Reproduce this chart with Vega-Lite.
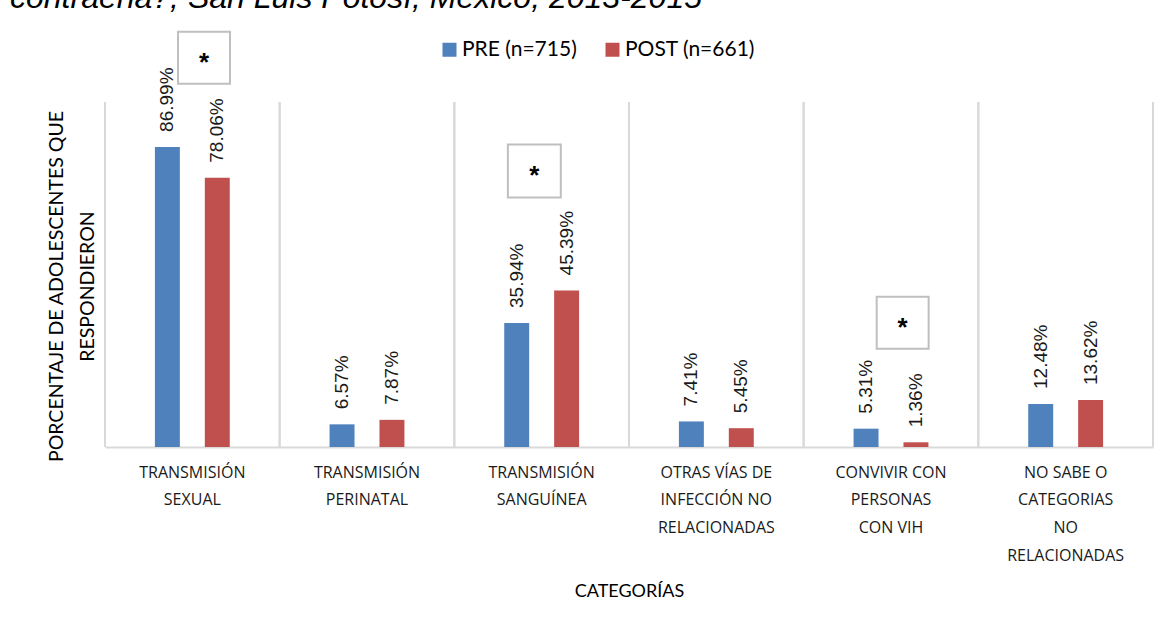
{
  "$schema": "https://vega.github.io/schema/vega-lite/v6.json",
  "width": 1048,
  "height": 345,
  "autosize": {"type": "none"},
  "padding": {"left": 105, "top": 102, "right": 17, "bottom": 179},
  "background": "white",
  "title": {
    "text": "contraerla?, San Luis Potosí, México, 2013-2015",
    "font": "Liberation Sans",
    "fontStyle": "italic",
    "fontWeight": "normal",
    "fontSize": 32,
    "color": "#000000",
    "anchor": "start",
    "frame": "group",
    "orient": "top",
    "baseline": "alphabetic",
    "dx": -95,
    "dy": 16
  },
  "datasets": {
    "bars": [
      {"cat": "TRANSMISIÓN SEXUAL", "grupo": "PRE (n=715)", "valor": 0.8699},
      {"cat": "TRANSMISIÓN SEXUAL", "grupo": "POST (n=661)", "valor": 0.7806},
      {"cat": "TRANSMISIÓN PERINATAL", "grupo": "PRE (n=715)", "valor": 0.0657},
      {"cat": "TRANSMISIÓN PERINATAL", "grupo": "POST (n=661)", "valor": 0.0787},
      {"cat": "TRANSMISIÓN SANGUÍNEA", "grupo": "PRE (n=715)", "valor": 0.3594},
      {"cat": "TRANSMISIÓN SANGUÍNEA", "grupo": "POST (n=661)", "valor": 0.4539},
      {"cat": "OTRAS VÍAS DE INFECCIÓN NO RELACIONADAS", "grupo": "PRE (n=715)", "valor": 0.0741},
      {"cat": "OTRAS VÍAS DE INFECCIÓN NO RELACIONADAS", "grupo": "POST (n=661)", "valor": 0.0545},
      {"cat": "CONVIVIR CON PERSONAS CON VIH", "grupo": "PRE (n=715)", "valor": 0.0531},
      {"cat": "CONVIVIR CON PERSONAS CON VIH", "grupo": "POST (n=661)", "valor": 0.0136},
      {"cat": "NO SABE O CATEGORIAS NO RELACIONADAS", "grupo": "PRE (n=715)", "valor": 0.1248},
      {"cat": "NO SABE O CATEGORIAS NO RELACIONADAS", "grupo": "POST (n=661)", "valor": 0.1362}
    ],
    "stars": [
      {"cat": "TRANSMISIÓN SEXUAL", "pos": 1.128, "marca": "*"},
      {"cat": "TRANSMISIÓN SANGUÍNEA", "pos": 0.80, "marca": "*"},
      {"cat": "CONVIVIR CON PERSONAS CON VIH", "pos": 0.36, "marca": "*"}
    ]
  },
  "encoding": {
    "x": {
      "field": "cat",
      "type": "nominal",
      "sort": null,
      "scale": {
        "domain": [
          "TRANSMISIÓN SEXUAL",
          "TRANSMISIÓN PERINATAL",
          "TRANSMISIÓN SANGUÍNEA",
          "OTRAS VÍAS DE INFECCIÓN NO RELACIONADAS",
          "CONVIVIR CON PERSONAS CON VIH",
          "NO SABE O CATEGORIAS NO RELACIONADAS"
        ],
        "paddingInner": 0,
        "paddingOuter": 0
      },
      "axis": {
        "title": "CATEGORÍAS",
        "titleFont": "Lato",
        "titleFontSize": 18,
        "titleFontWeight": "normal",
        "titleColor": "#000000",
        "titlePadding": 19,
        "labelAngle": 0,
        "labelFont": "Open Sans",
        "labelFontSize": 16,
        "labelColor": "#1a1a1a",
        "labelPadding": 17,
        "labelLineHeight": 27.7,
        "labelBaseline": "top",
        "labelLimit": 0,
        "ticks": false,
        "grid": false,
        "domainColor": "#D9D9D9",
        "domainWidth": 2,
        "labelExpr": "({'TRANSMISIÓN SEXUAL': ['TRANSMISIÓN', 'SEXUAL'], 'TRANSMISIÓN PERINATAL': ['TRANSMISIÓN', 'PERINATAL'], 'TRANSMISIÓN SANGUÍNEA': ['TRANSMISIÓN', 'SANGUÍNEA'], 'OTRAS VÍAS DE INFECCIÓN NO RELACIONADAS': ['OTRAS VÍAS DE', 'INFECCIÓN NO', 'RELACIONADAS'], 'CONVIVIR CON PERSONAS CON VIH': ['CONVIVIR CON', 'PERSONAS', 'CON VIH'], 'NO SABE O CATEGORIAS NO RELACIONADAS': ['NO SABE O', 'CATEGORIAS', 'NO', 'RELACIONADAS']})[datum.value]"
      }
    }
  },
  "layer": [
    {
      "data": {"name": "bars"},
      "transform": [{"filter": "datum.grupo == 'PRE (n=715)'"}],
      "mark": {"type": "rule", "color": "#D9D9D9", "strokeWidth": 2},
      "encoding": {"x": {"field": "cat", "type": "nominal", "bandPosition": 0}}
    },
    {
      "data": {"name": "bars"},
      "transform": [{"filter": "datum.grupo == 'PRE (n=715)'"}],
      "mark": {"type": "rule", "color": "#D9D9D9", "strokeWidth": 2},
      "encoding": {"x": {"field": "cat", "type": "nominal", "bandPosition": 1}}
    },
    {
      "data": {"name": "bars"},
      "mark": {"type": "bar"},
      "encoding": {
        "xOffset": {
          "field": "grupo",
          "type": "nominal",
          "sort": ["PRE (n=715)", "POST (n=661)"],
          "scale": {"paddingInner": 0.5, "paddingOuter": 1.15}
        },
        "y": {
          "field": "valor",
          "type": "quantitative",
          "scale": {"domain": [0, 1], "nice": false, "zero": true},
          "axis": {
            "title": ["PORCENTAJE DE ADOLESCENTES QUE", "RESPONDIERON"],
            "titleFont": "Lato",
            "titleFontSize": 19.5,
            "titleFontWeight": "normal",
            "titleColor": "#000000",
            "titleLineHeight": 31,
            "titlePadding": 8,
            "titleY": 184,
            "labels": false,
            "ticks": false,
            "domain": false,
            "grid": false
          }
        },
        "color": {
          "field": "grupo",
          "type": "nominal",
          "scale": {"domain": ["PRE (n=715)", "POST (n=661)"], "range": ["#4F81BD", "#C0504D"]},
          "legend": {
            "title": null,
            "orient": "none",
            "direction": "horizontal",
            "legendX": 334,
            "legendY": -63,
            "symbolType": "square",
            "symbolSize": 196,
            "symbolStrokeWidth": 0,
            "labelFont": "Lato",
            "labelFontSize": 21,
            "labelColor": "#000000",
            "labelOffset": 2,
            "columnPadding": 25,
            "labelLimit": 0
          }
        }
      }
    },
    {
      "data": {"name": "bars"},
      "mark": {
        "type": "text",
        "angle": 270,
        "align": "left",
        "baseline": "middle",
        "dx": 15,
        "font": "Liberation Sans",
        "fontSize": 19,
        "color": "#1a1a1a"
      },
      "encoding": {
        "xOffset": {"field": "grupo", "type": "nominal", "sort": ["PRE (n=715)", "POST (n=661)"]},
        "y": {"field": "valor", "type": "quantitative"},
        "text": {"field": "valor", "type": "quantitative", "format": ".2%"}
      }
    },
    {
      "data": {"name": "stars"},
      "transform": [{"filter": "datum.cat != 'TRANSMISIÓN SANGUÍNEA'"}],
      "mark": {"type": "point", "shape": "square", "size": 2700, "filled": true, "fill": "#FFFFFF", "stroke": "#BFBFBF", "strokeWidth": 2, "opacity": 1},
      "encoding": {
        "xOffset": {"value": 99},
        "y": {"field": "pos", "type": "quantitative"}
      }
    },
    {
      "data": {"name": "stars"},
      "transform": [{"filter": "datum.cat != 'TRANSMISIÓN SANGUÍNEA'"}],
      "mark": {"type": "text", "font": "Liberation Sans", "fontWeight": "bold", "fontSize": 26, "baseline": "middle", "dy": 5, "color": "#000000"},
      "encoding": {
        "xOffset": {"value": 99},
        "y": {"field": "pos", "type": "quantitative"},
        "text": {"field": "marca"}
      }
    },
    {
      "data": {"name": "stars"},
      "transform": [{"filter": "datum.cat == 'TRANSMISIÓN SANGUÍNEA'"}],
      "mark": {"type": "point", "shape": "square", "size": 2800, "filled": true, "fill": "#FFFFFF", "stroke": "#BFBFBF", "strokeWidth": 2, "opacity": 1},
      "encoding": {
        "xOffset": {"value": 80},
        "y": {"field": "pos", "type": "quantitative"}
      }
    },
    {
      "data": {"name": "stars"},
      "transform": [{"filter": "datum.cat == 'TRANSMISIÓN SANGUÍNEA'"}],
      "mark": {"type": "text", "font": "Liberation Sans", "fontWeight": "bold", "fontSize": 26, "baseline": "middle", "dy": 5, "color": "#000000"},
      "encoding": {
        "xOffset": {"value": 80},
        "y": {"field": "pos", "type": "quantitative"},
        "text": {"field": "marca"}
      }
    }
  ],
  "config": {
    "view": {"stroke": null}
  }
}
